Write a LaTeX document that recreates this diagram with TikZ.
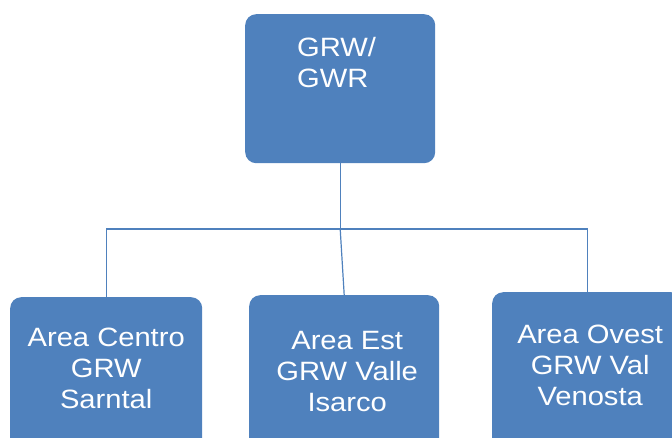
\documentclass[tikz,border=0pt]{standalone}
\usepackage{fontspec}
\setmainfont{Liberation Sans}[FakeStretch=1.1]
\usetikzlibrary{positioning}
\definecolor{grwblue}{HTML}{4F81BD}

\begin{document}
\begin{tikzpicture}[
    x=1pt, y=-1pt,
    box/.style={fill=grwblue, rounded corners=11pt, inner sep=0pt, anchor=north west},
    txt/.style={text=white, inner sep=0pt, align=center, font=\fontsize{26.5}{31}\selectfont},
    link/.style={draw=grwblue, line width=1.2pt}
]
    % Rahmen (Boxen unten und rechts abgeschnitten)
    \useasboundingbox (0,0) rectangle (672,437);
    \clip (0,0) rectangle (672,437);

    % Oberste Ebene
    \node[box, minimum width=190pt, minimum height=149pt] (grw) at (245,14) {};
    \node[txt, align=left, below right=23pt and 52pt of grw.north west] (grwtxt) {GRW/\\GWR};

    % Drei Bereiche
    \node[box, minimum width=192pt, minimum height=180pt] (centro) at (10,297) {};
    \node[box, minimum width=190pt, minimum height=180pt] (est) at (249,295) {};
    \node[box, minimum width=190pt, minimum height=180pt] (ovest) at (492,292) {};

    \node[txt, below=31pt of centro.north] (centrotxt) {Area Centro\\GRW\\Sarntal};
    \node[txt, below=36pt of est.north, xshift=3pt] (esttxt) {Area Est\\GRW Valle\\Isarco};
    \node[txt, below=33pt of ovest.north, xshift=3pt] (ovesttxt) {Area Ovest\\GRW Val\\Venosta};

    % Verbindungen
    \coordinate (bus) at (grw.south |- 0,229);
    \draw[link] (grw.south) -- (bus);
    \draw[link] (centro.north) -- (centro.north |- bus) -- (ovest.north |- bus) -- (ovest.north);
    \draw[link] (bus) -- (est.north);
\end{tikzpicture}
\end{document}
